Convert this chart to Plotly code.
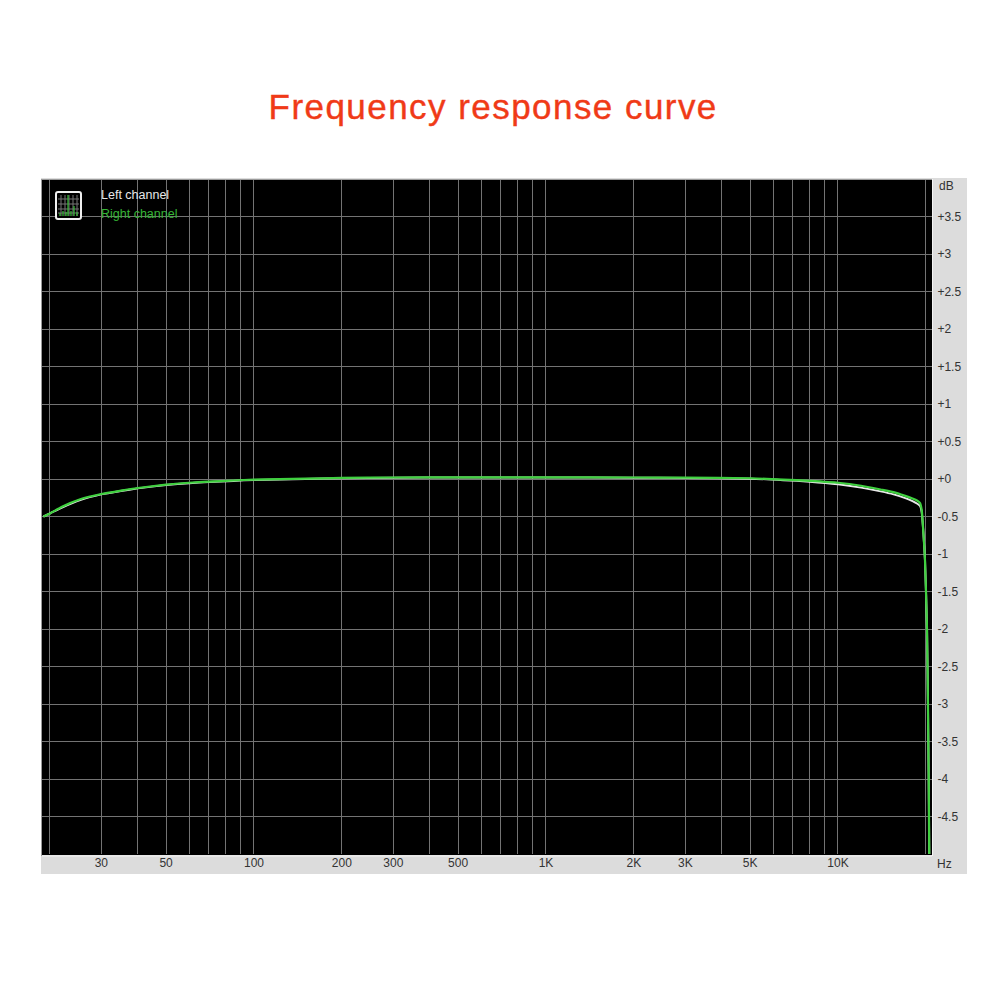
import plotly.graph_objects as go

TITLE = "Frequency response curve"
FREQ_HZ = [19, 20, 22, 25.4, 30, 35, 40, 50, 60, 70, 85, 100, 150, 200, 300, 500, 1000, 2000, 3000, 5000, 6500, 8000, 10000, 12000,
           14000, 15500, 17000, 18000, 18700, 19100, 19350, 19600, 19860, 20180, 20330, 20450, 20540, 20600]
LEFT_DB = [-0.50, -0.46, -0.38, -0.28, -0.205, -0.16, -0.125, -0.08, -0.055, -0.04, -0.025, -0.012, 0.0, 0.01, 0.018, 0.02, 0.02, 0.018, 0.015, 0.005, -0.015, -0.035, -0.07, -0.115,
           -0.165, -0.205, -0.255, -0.295, -0.33, -0.36, -0.44, -0.70, -1.08, -2.0, -3.0, -4.0, -5.0, -5.6]
RIGHT_DB = [-0.50, -0.46, -0.37, -0.27, -0.20, -0.155, -0.12, -0.075, -0.05, -0.035, -0.02, -0.008, 0.004, 0.014, 0.02, 0.022, 0.022, 0.02, 0.018, 0.01, -0.008, -0.025, -0.05, -0.09,
            -0.14, -0.175, -0.225, -0.26, -0.29, -0.32, -0.41, -0.70, -1.08, -2.0, -3.0, -4.0, -5.0, -5.6]
GRID_HZ = [20, 30, 40, 50, 60, 70, 80, 90, 100, 200, 300, 400, 500, 600, 700, 800, 900,
           1000, 2000, 3000, 4000, 5000, 6000, 7000, 8000, 9000, 10000, 20000]
HZ_LABELS = {30: "30", 50: "50", 100: "100", 200: "200", 300: "300", 500: "500", 1000: "1K",
             2000: "2K", 3000: "3K", 5000: "5K", 10000: "10K"}
DB_TICKS = [3.5, 3, 2.5, 2, 1.5, 1, 0.5, 0, -0.5, -1, -1.5, -2, -2.5, -3, -3.5, -4, -4.5]
DB_LABELS = ["+3.5", "+3", "+2.5", "+2", "+1.5", "+1", "+0.5", "+0", "-0.5", "-1", "-1.5", "-2", "-2.5", "-3", "-3.5", "-4", "-4.5"]

# The page body has an 8px margin, so the figure is 984px square and starts at (8, 8).
OFFSET = 8
W, H = 984, 984
L, R, T, B = 42, 932, 179, 854


def px(x):
    return (x - L) / (R - L)


def py(y):
    return (B - y) / (B - T)


def rect(x0, y0, x1, y1, **kw):
    return dict(type="rect", xref="paper", yref="paper", x0=px(x0), x1=px(x1), y0=py(y1), y1=py(y0), **kw)


def seg(x0, y0, x1, y1, color, width=1):
    return dict(type="line", xref="paper", yref="paper", x0=px(x0), x1=px(x1), y0=py(y0), y1=py(y1),
                line=dict(color=color, width=width), layer="above")


fig = go.Figure()
fig.add_trace(go.Scatter(x=FREQ_HZ, y=LEFT_DB, mode="lines", name="Left channel",
                         line=dict(color="#E8E8E8", width=2, shape="spline", smoothing=0.5), showlegend=False))
fig.add_trace(go.Scatter(x=FREQ_HZ, y=RIGHT_DB, mode="lines", name="Right channel",
                         line=dict(color="#3FD03F", width=2.2, shape="spline", smoothing=0.5), showlegend=False))

shapes = [
    rect(41, 178, 967, 874, fillcolor="#DCDCDC", line=dict(width=0), layer="below"),
    rect(42, 179, 932, 855, fillcolor="#000000", line=dict(width=0), layer="below"),
    seg(42, 856, 932, 856, "#F4F4F4"),
    seg(932.5, 179, 932.5, 856, "#F4F4F4"),
    seg(42, 179.5, 932, 179.5, "#9A9A9A"),
    seg(41.5, 179, 41.5, 856, "#9A9A9A"),
    # legend icon
    dict(type="path", xref="paper", yref="paper",
         path=(f"M {px(58)},{py(192)} L {px(79)},{py(192)} Q {px(81)},{py(192)} {px(81)},{py(194)} "
               f"L {px(81)},{py(217)} Q {px(81)},{py(219)} {px(79)},{py(219)} L {px(58)},{py(219)} "
               f"Q {px(56)},{py(219)} {px(56)},{py(217)} L {px(56)},{py(194)} Q {px(56)},{py(192)} {px(58)},{py(192)} Z"),
         fillcolor="#000000", line=dict(color="#F0F0F0", width=2), layer="above"),
]
for gx in (61, 65, 69, 73, 77):
    shapes.append(seg(gx, 195, gx, 216, "#777777"))
for gy in (199, 204, 209, 213):
    shapes.append(seg(58, gy, 79, gy, "#777777"))
for gx, top in ((60, 213), (63, 211), (66, 212), (68, 195), (71, 211), (74, 206), (77, 212)):
    shapes.append(seg(gx, top, gx, 216, "#38C038", 1.2))

annotations = [
    dict(text=TITLE, xref="paper", yref="paper", x=px(493), y=py(106), xanchor="center", yanchor="middle",
         showarrow=False, font=dict(family="Liberation Sans", size=35, color="#F03A17")),
    dict(text="Left channel", xref="paper", yref="paper", x=px(98.5), y=py(194.5), xanchor="left", yanchor="middle",
         showarrow=False, font=dict(family="Liberation Sans", size=12.5, color="#E8E8E8")),
    dict(text="Right channel", xref="paper", yref="paper", x=px(98.5), y=py(213.5), xanchor="left", yanchor="middle",
         showarrow=False, font=dict(family="Liberation Sans", size=12.5, color="#36B536")),
    dict(text="dB", xref="paper", yref="paper", x=px(937), y=py(186), xanchor="left", yanchor="middle",
         showarrow=False, font=dict(family="Liberation Sans", size=12, color="#333333")),
    dict(text="Hz", xref="paper", yref="paper", x=px(935), y=py(864), xanchor="left", yanchor="middle",
         showarrow=False, font=dict(family="Liberation Sans", size=12, color="#333333")),
]

fig.update_layout(
    width=W, height=H, autosize=False,
    margin=dict(l=L - OFFSET, r=W - (R - OFFSET), t=T - OFFSET, b=H - (B - OFFSET), pad=0),
    paper_bgcolor="#FFFFFF", plot_bgcolor="#000000",
    shapes=shapes, annotations=annotations, showlegend=False,
    xaxis=dict(type="log", range=[1.274, 4.322], tickmode="array", tickvals=GRID_HZ,
               ticktext=[HZ_LABELS.get(v, "") for v in GRID_HZ], tickangle=0,
               showgrid=True, gridcolor="#737373", gridwidth=1.4, zeroline=False, ticks="", ticklen=0,
               tickfont=dict(family="Liberation Sans", size=12, color="#333333"), showline=False),
    yaxis=dict(range=[-5, 4], side="right", tickmode="array", tickvals=DB_TICKS, ticktext=DB_LABELS,
               showgrid=True, gridcolor="#737373", gridwidth=1.4, zeroline=False, ticks="outside", ticklen=2,
               tickcolor="rgba(0,0,0,0)",
               tickfont=dict(family="Liberation Sans", size=12, color="#333333"), showline=False),
)

TITLE_STYLE = """
document.querySelectorAll('.annotation-text').forEach(function (t) {
  if (t.textContent === 'Frequency response curve') {
    t.style.letterSpacing = '1.45px';
    t.style.stroke = '#F03A17';
    t.style.strokeWidth = '0.4px';
  }
});
"""

fig.write_html("out.html", post_script=TITLE_STYLE)
